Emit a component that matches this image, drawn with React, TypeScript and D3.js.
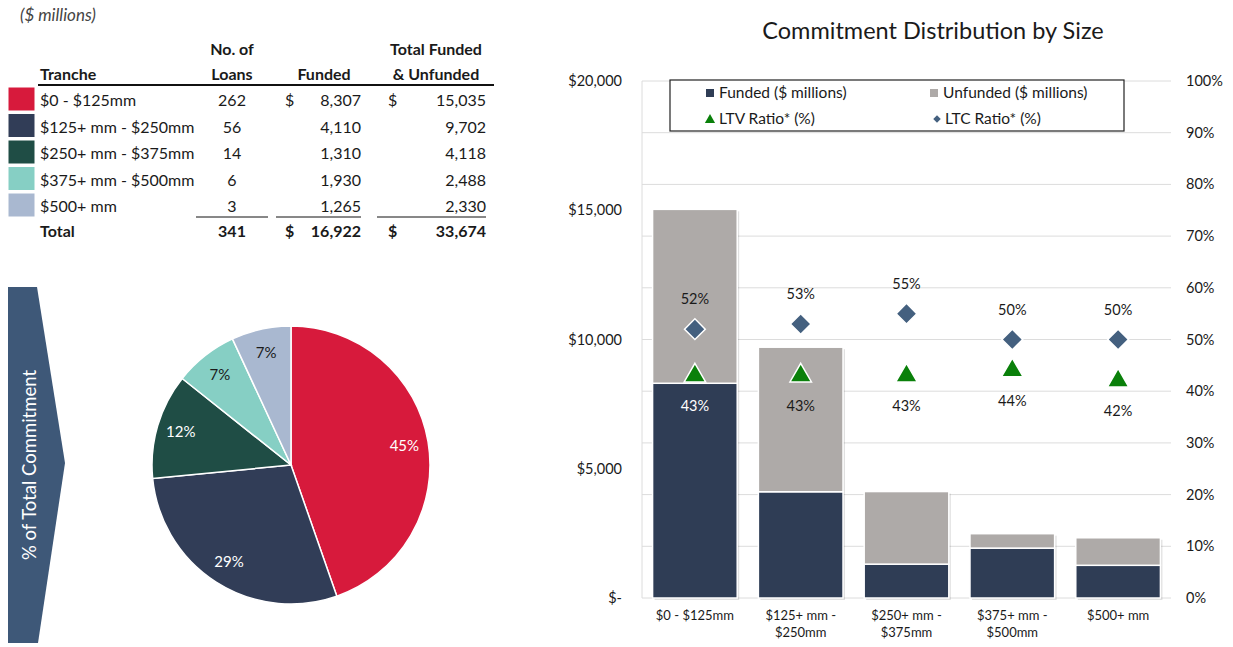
import React from 'react';
import * as d3 from 'd3';

// tranche data ($ millions)
const tranches = ['$0 - $125mm', '$125+ mm - $250mm', '$250+ mm - $375mm', '$375+ mm - $500mm', '$500+ mm'];
const axisLines = [['$0 - $125mm'], ['$125+ mm -', '$250mm'], ['$250+ mm -', '$375mm'], ['$375+ mm -', '$500mm'], ['$500+ mm']];
const loans = [262, 56, 14, 6, 3];
const funded = [8307, 4110, 1310, 1930, 1265];
const totalCommit = [15035, 9702, 4118, 2488, 2330];
const totals = [341, 16922, 33674]; // as printed in the source table
const ltv = [43, 43, 43, 44, 42];
const ltc = [52, 53, 55, 50, 50];
const trancheColors = ['#d71a3c', '#313d57', '#1f4d45', '#86cfc4', '#a9b8d0'];
const leftTicks = [0, 5000, 10000, 15000, 20000];
const rightTicks = [0, 0.1, 0.2, 0.3, 0.4, 0.5, 0.6, 0.7, 0.8, 0.9, 1];

const FONT = 'Lato, "Open Sans", sans-serif';
const FUNDED = '#2f3d55';
const UNFUNDED = '#aeaaa8';
const GREEN = '#0a800a';
const DIAMOND = '#44607f';
const TXT = '#1a1a1a';

const fmt = d3.format(',');
const pct = d3.format('.0%');

function Table() {
  const rowY = [100, 126.5, 153, 179.5, 206];
  const fs = 16;
  return (
    <g fontFamily={FONT} fill={TXT}>
      <text x={20} y={21} fontSize={17} fontStyle="italic" fill="#444">($ millions)</text>
      <g fontWeight="bold" fontSize={fs}>
        <text x={232} y={55} textAnchor="middle">No. of</text>
        <text x={436} y={55} textAnchor="middle">Total Funded</text>
        <text x={40} y={80}>Tranche</text>
        <text x={232} y={80} textAnchor="middle">Loans</text>
        <text x={324} y={80} textAnchor="middle">Funded</text>
        <text x={436} y={80} textAnchor="middle">&amp; Unfunded</text>
      </g>
      <line x1={38} x2={494} y1={85} y2={85} stroke="#111" strokeWidth={2.2} />
      {tranches.map((t, i) => (
        <g key={t} fontSize={fs}>
          <rect x={8} y={rowY[i] - 13} width={27} height={24} fill={trancheColors[i]} stroke="#fff" />
          <text x={40} y={rowY[i] + 6}>{t}</text>
          <text x={232} y={rowY[i] + 6} textAnchor="middle">{loans[i]}</text>
          {i === 0 && <text x={285} y={rowY[i] + 6}>$</text>}
          <text x={361} y={rowY[i] + 6} textAnchor="end">{fmt(funded[i])}</text>
          {i === 0 && <text x={388} y={rowY[i] + 6}>$</text>}
          <text x={486} y={rowY[i] + 6} textAnchor="end">{fmt(totalCommit[i])}</text>
        </g>
      ))}
      <g stroke="#111" strokeWidth={1}>
        <line x1={196} x2={268} y1={217} y2={217} />
        <line x1={276} x2={361} y1={217} y2={217} />
        <line x1={377} x2={486} y1={217} y2={217} />
      </g>
      <g fontWeight="bold" fontSize={fs}>
        <text x={40} y={237}>Total</text>
        <text x={232} y={237} textAnchor="middle">{totals[0]}</text>
        <text x={285} y={237}>$</text>
        <text x={361} y={237} textAnchor="end">{fmt(totals[1])}</text>
        <text x={388} y={237}>$</text>
        <text x={486} y={237} textAnchor="end">{fmt(totals[2])}</text>
      </g>
    </g>
  );
}

function Pie() {
  const cx = 291, cy = 465, r = 139;
  const arcs = d3.pie<number>().sort(null).value((d) => d)(totalCommit);
  const arc = d3.arc<d3.PieArcDatum<number>>().innerRadius(0).outerRadius(r);
  const labelArc = d3.arc<d3.PieArcDatum<number>>().innerRadius(115).outerRadius(115);
  const total = d3.sum(totalCommit);
  return (
    <g>
      <path d="M8,287 L37,287 L65,463 L38,643 L8,643 Z" fill="#3e5878" />
      <text transform="translate(36,465) rotate(-90)" textAnchor="middle" fontFamily={FONT}
        fontSize={18.5} fill="#fff">% of Total Commitment</text>
      <g transform={`translate(${cx},${cy})`}>
        {arcs.map((a, i) => (
          <path key={i} d={arc(a) || ''} fill={trancheColors[i]} stroke="#fff" strokeWidth={1.5} />
        ))}
        {arcs.map((a, i) => {
          const [lx, ly] = labelArc.centroid(a);
          return (
            <text key={'l' + i} x={lx} y={ly + 5} textAnchor="middle" fontFamily={FONT} fontSize={15}
              fill={i < 3 ? '#fff' : TXT}>{pct(totalCommit[i] / total)}</text>
          );
        })}
      </g>
    </g>
  );
}

function Bars() {
  const x = d3.scaleBand<string>().domain(tranches).range([642, 1171]).paddingInner(0.2).paddingOuter(0.1);
  const y = d3.scaleLinear().domain([0, 20000]).range([598, 81]);
  const y2 = d3.scaleLinear().domain([0, 1]).range([598, 81]);
  const bw = x.bandwidth();
  const tri = d3.symbol().type(d3.symbolTriangle).size(200)();
  const dia = d3.symbol().type(d3.symbolSquare).size(215)();
  const triS = d3.symbol().type(d3.symbolTriangle).size(45)();
  const diaS = d3.symbol().type(d3.symbolSquare).size(28)();
  return (
    <g fontFamily={FONT} fill={TXT}>
      <text x={933} y={39} textAnchor="middle" fontSize={23.5}>Commitment Distribution by Size</text>
      {rightTicks.map((t) => (
        <line key={t} x1={642} x2={1171} y1={y2(t)} y2={y2(t)} stroke="#dcdcdc" />
      ))}
      <line x1={642} x2={642} y1={81} y2={598} stroke="#dcdcdc" />
      {leftTicks.map((t) => (
        <text key={t} x={622} y={y(t) + 5} textAnchor="end" fontSize={14.5}>{t === 0 ? '$-' : '$' + fmt(t)}</text>
      ))}
      {rightTicks.map((t) => (
        <text key={t} x={1186} y={y2(t) + 5} fontSize={14.5}>{pct(t)}</text>
      ))}
      {tranches.map((t, i) => {
        const x0 = x(t) as number;
        return (
          <g key={t}>
            <rect x={x0 + 2} y={y(totalCommit[i]) + 2} width={bw} height={y(0) - y(totalCommit[i])} fill="#000" opacity={0.12} />
            <rect x={x0} y={y(funded[i])} width={bw} height={y(0) - y(funded[i])} fill={FUNDED} stroke="#fff" strokeWidth={1.5} />
            <rect x={x0} y={y(totalCommit[i])} width={bw} height={y(funded[i]) - y(totalCommit[i])} fill={UNFUNDED} stroke="#fff" strokeWidth={1.5} />
          </g>
        );
      })}
      {tranches.map((t, i) => {
        const cx = (x(t) as number) + bw / 2;
        return (
          <g key={'m' + t}>
            <path d={dia || ''} transform={`translate(${cx},${y2(ltc[i] / 100)}) rotate(45)`} fill={DIAMOND} stroke="#fff" strokeWidth={1.5} />
            <path d={tri || ''} transform={`translate(${cx},${y2(ltv[i] / 100)})`} fill={GREEN} stroke="#fff" strokeWidth={1.5} />
            <text x={cx} y={y2(ltc[i] / 100) - 25} textAnchor="middle" fontSize={14.5}>{ltc[i]}%</text>
            <text x={cx} y={y2(ltv[i] / 100) + 35} textAnchor="middle" fontSize={14.5}
              fill={i === 0 ? '#fff' : TXT}>{ltv[i]}%</text>
            {axisLines[i].map((l, j) => (
              <text key={j} x={cx} y={620 + j * 17} textAnchor="middle" fontSize={13}>{l}</text>
            ))}
          </g>
        );
      })}
      <rect x={670} y={80} width={454} height={51} fill="#fff" stroke="#222" strokeWidth={1.2} />
      <g fontSize={15.5}>
        <rect x={706} y={89} width={8} height={8} fill={FUNDED} />
        <text x={719} y={98}>Funded ($ millions)</text>
        <rect x={930} y={89} width={8} height={8} fill={UNFUNDED} />
        <text x={943} y={98}>Unfunded ($ millions)</text>
        <path d={triS || ''} transform="translate(710,120)" fill={GREEN} />
        <text x={719} y={124}>LTV Ratio* (%)</text>
        <path d={diaS || ''} transform="translate(937,119) rotate(45)" fill={DIAMOND} />
        <text x={945} y={124}>LTC Ratio* (%)</text>
      </g>
    </g>
  );
}

export default function App() {
  return (
    <svg width={1233} height={647} style={{ position: 'absolute', left: 0, top: 0, background: '#fff' }}>
      <Table />
      <Pie />
      <Bars />
    </svg>
  );
}
